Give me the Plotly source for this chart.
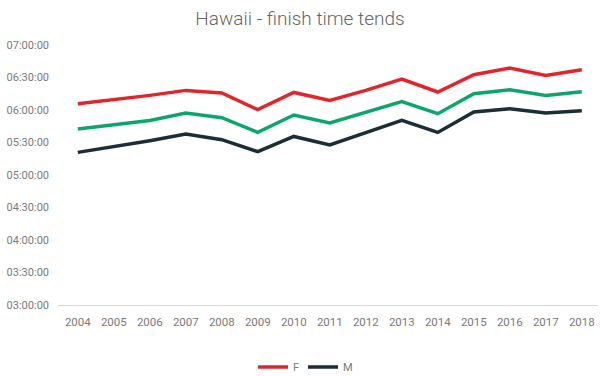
import plotly.graph_objects as go

years = ["2004", "2005", "2006", "2007", "2008", "2009", "2010", "2011",
         "2012", "2013", "2014", "2015", "2016", "2017", "2018"]

female = ["06:05:48", "06:09:30", "06:13:30", "06:18:06", "06:15:42", "06:00:18",
          "06:16:12", "06:08:54", "06:18:06", "06:28:36", "06:16:36", "06:32:36",
          "06:38:48", "06:31:54", "06:37:12"]
overall = ["05:42:30", "05:46:24", "05:50:24", "05:57:12", "05:52:54", "05:39:18",
           "05:55:24", "05:48:00", "05:57:48", "06:07:42", "05:56:36", "06:15:00",
           "06:18:42", "06:13:30", "06:16:54"]
male = ["05:20:54", "05:26:06", "05:31:42", "05:37:48", "05:32:36", "05:21:30",
        "05:35:36", "05:27:48", "05:39:18", "05:50:24", "05:39:18", "05:58:12",
        "06:01:12", "05:57:12", "05:59:24"]

y_ticks = ["03:00:00", "03:30:00", "04:00:00", "04:30:00", "05:00:00",
           "05:30:00", "06:00:00", "06:30:00", "07:00:00"]

DAY = "1970-01-01 "


def ts(values):
    return [DAY + v for v in values]


fig = go.Figure()
fig.add_trace(go.Scatter(x=years, y=ts(female), mode="lines", name="F",
                         line=dict(color="#e3242b", width=3.5)))
fig.add_trace(go.Scatter(x=years, y=ts(overall), mode="lines", name="All",
                         showlegend=False,
                         line=dict(color="#0aa76b", width=3.5)))
fig.add_trace(go.Scatter(x=years, y=ts(male), mode="lines", name="M",
                         line=dict(color="#1b2d35", width=3.5)))

fig.update_layout(
    width=600, height=376,
    margin=dict(l=58, r=2, t=45, b=71, autoexpand=False),
    paper_bgcolor="white", plot_bgcolor="white",
    font=dict(family="Roboto", color="#7a7a7a"),
    title=dict(text="Hawaii - finish time tends", x=0.5, xref="container",
               xanchor="center", y=0.952, yanchor="middle",
               font=dict(family="Roboto", size=19, color="#666666", weight=300)),
    showlegend=True,
    legend=dict(orientation="h", x=0.505, xref="container", xanchor="center",
                y=0.024, yref="container", yanchor="middle",
                font=dict(size=11, color="#7a7a7a"), itemwidth=30,
                entrywidth=5, entrywidthmode="pixels",
                traceorder="normal"),
    xaxis=dict(type="category", showgrid=False, zeroline=False,
               showline=True, linecolor="#d9d9d9", linewidth=1,
               tickfont=dict(size=11.5, color="#7a7a7a"),
               ticks="", ticklabelstandoff=6, range=[-0.55, 14.45],
               automargin=False),
    yaxis=dict(type="date", showgrid=False, zeroline=False, showline=False,
               range=[DAY + y_ticks[0], DAY + y_ticks[-1]],
               tickvals=ts(y_ticks), ticktext=y_ticks,
               tickfont=dict(size=11, color="#7a7a7a"), ticks="",
               ticklabelstandoff=8, automargin=False),
)

fig.write_html(
    "out.html",
    config={"displayModeBar": False},
    post_script="document.body.style.margin='0';document.body.style.padding='0';"
                "window.dispatchEvent(new Event('resize'));",
)
